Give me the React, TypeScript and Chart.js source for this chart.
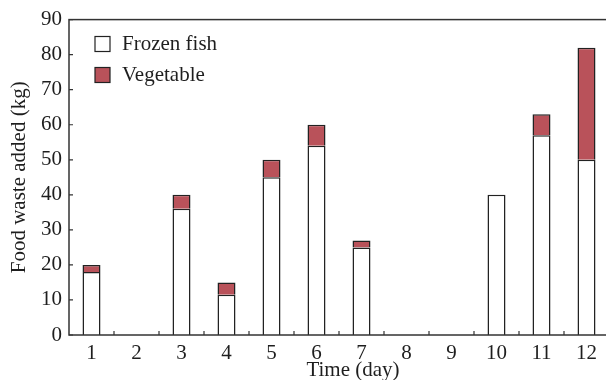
import React, { useEffect, useRef } from "react";
import { Chart, registerables } from "chart.js";

Chart.register(...registerables);

const categories = ["1", "2", "3", "4", "5", "6", "7", "8", "9", "10", "11", "12"];
const frozenFish: (number | null)[] = [18, null, 36, 11.5, 45, 54, 25, null, null, 40, 57, 50];
const vegetable: (number | null)[] = [2, null, 4, 3.5, 5, 6, 2, null, null, null, 6, 32];
const yTicks = [0, 10, 20, 30, 40, 50, 60, 70, 80, 90];
const seriesNames = ["Frozen fish", "Vegetable"];
const xTitle = "Time (day)";
const yTitle = "Food waste added (kg)";

const FONT = "'Liberation Serif', 'Times New Roman', serif";
const FS = 21;
const INK = "#1e1e1e";
const VEG = "#b9525a";

const decorPlugin = {
  id: "decor",
  afterDraw(chart: any) {
    const { ctx, chartArea } = chart;
    const { left, top, right, bottom } = chartArea;
    const xs = chart.scales.x;
    const ys = chart.scales.y;
    ctx.save();
    ctx.strokeStyle = "#333";
    ctx.lineWidth = 1.5;
    ctx.strokeRect(left, top, right - left, bottom - top);
    // inward ticks
    ctx.lineWidth = 1.2;
    ctx.beginPath();
    for (let i = 0; i < categories.length - 1; i++) {
      const px = (xs.getPixelForTick(i) + xs.getPixelForTick(i + 1)) / 2;
      ctx.moveTo(px, bottom);
      ctx.lineTo(px, bottom - 4);
    }
    yTicks.forEach((v) => {
      const py = ys.getPixelForValue(v);
      ctx.moveTo(left, py);
      ctx.lineTo(left + 4, py);
    });
    ctx.stroke();
    // legend
    ctx.font = `${FS}px ${FONT}`;
    ctx.textBaseline = "middle";
    ctx.textAlign = "left";
    const ds = chart.data.datasets;
    const lx = left + 26;
    const rows = [44, 75];
    ds.forEach((d: any, i: number) => {
      const cy = rows[i];
      ctx.fillStyle = d.backgroundColor;
      ctx.fillRect(lx, cy - 7.5, 15, 15);
      ctx.strokeStyle = "#222";
      ctx.lineWidth = 1.2;
      ctx.strokeRect(lx, cy - 7.5, 15, 15);
      ctx.fillStyle = INK;
      ctx.fillText(d.label, lx + 27, cy);
    });
    // x title
    ctx.textAlign = "center";
    ctx.fillText(xTitle, (left + right) / 2 + 14, 370);
    ctx.restore();
  },
};

export default function App() {
  const ref = useRef<HTMLCanvasElement>(null);
  useEffect(() => {
    const canvas = ref.current!;
    const chart = new Chart(canvas, {
      type: "bar",
      data: {
        labels: categories,
        datasets: [
          {
            label: seriesNames[0],
            data: frozenFish,
            backgroundColor: "#ffffff",
            borderColor: "#222",
            borderWidth: 1.5,
          },
          {
            label: seriesNames[1],
            data: vegetable,
            backgroundColor: VEG,
            borderColor: "#222",
            borderWidth: 1.5,
          },
        ],
      },
      options: {
        animation: false,
        responsive: false,
        maintainAspectRatio: false,
        devicePixelRatio: 1,
        datasets: { bar: { categoryPercentage: 1, barPercentage: 0.4 } },
        layout: { padding: { left: 0, top: 18, right: 11, bottom: 0 } },
        plugins: { legend: { display: false }, tooltip: { enabled: false } },
        scales: {
          x: {
            stacked: true,
            grid: { display: false, drawTicks: false },
            border: { display: false },
            ticks: { color: INK, font: { family: FONT, size: FS }, padding: 6, maxRotation: 0 },
            afterFit: (s: any) => {
              s.height = 45;
            },
          },
          y: {
            stacked: true,
            min: 0,
            max: 90,
            grid: { display: false, drawTicks: false },
            border: { display: false },
            ticks: { stepSize: 10, color: INK, font: { family: FONT, size: FS }, padding: 7 },
            title: { display: true, text: yTitle, color: INK, font: { family: FONT, size: FS }, padding: { top: 7, bottom: 0 } },
            afterFit: (s: any) => {
              s.width = 69;
            },
          },
        },
      },
      plugins: [decorPlugin],
    });
    return () => chart.destroy();
  }, []);
  return (
    <div style={{ position: "fixed", left: 0, top: 0, width: 606, height: 380, overflow: "hidden", background: "#fff" }}>
      <canvas ref={ref} width={620} height={380} style={{ display: "block", width: 620, height: 380 }} />
    </div>
  );
}
